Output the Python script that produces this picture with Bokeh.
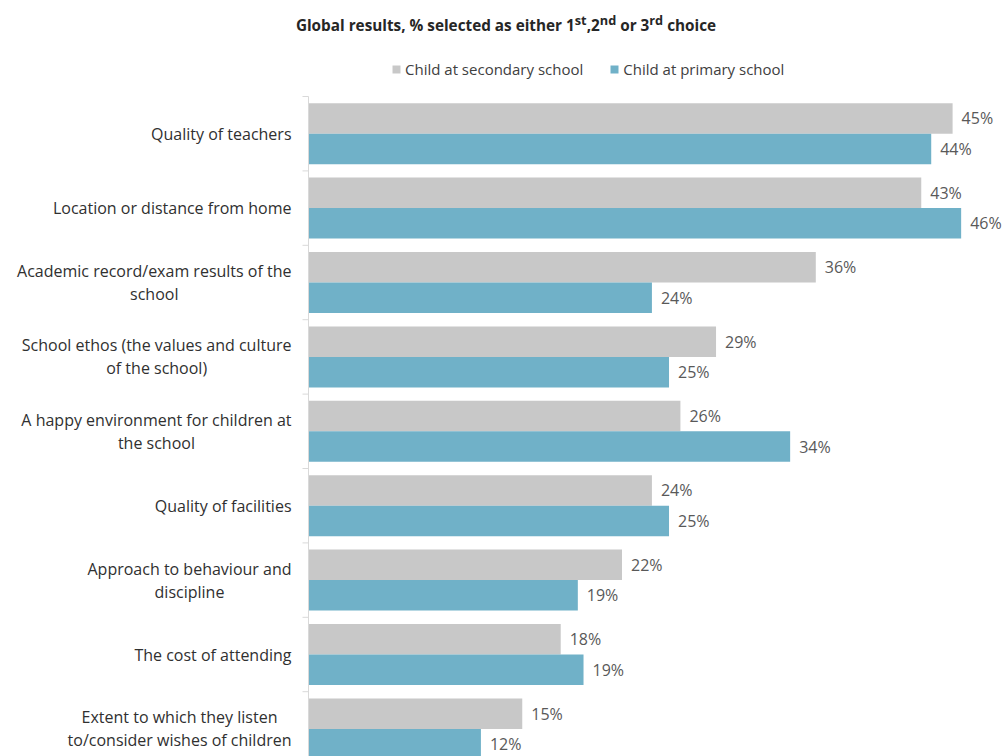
from bokeh.plotting import figure
from bokeh.models import Range1d, Legend, LegendItem, ColumnDataSource, Div, Label
from bokeh.layouts import column
from bokeh.embed import file_html
from bokeh.resources import INLINE
from bokeh.core.properties import value

categories = [
    "Quality of teachers",
    "Location or distance from home",
    "Academic record/exam results of the\nschool",
    "School ethos (the values and culture\nof the school)",
    "A happy environment for children at\nthe school",
    "Quality of facilities",
    "Approach to behaviour and\ndiscipline",
    "The cost of attending",
    "Extent to which they listen\nto/consider wishes of children",
]
secondary = [45.2, 43.0, 35.6, 28.6, 26.1, 24.1, 22.0, 17.7, 15.0]
primary = [43.7, 45.8, 24.1, 25.3, 33.8, 25.3, 18.9, 19.3, 12.1]
series_names = ["Child at secondary school", "Child at primary school"]
title_html = "Global results, % selected as either 1<sup>st</sup>,2<sup>nd</sup> or 3<sup>rd</sup> choice"

GRAY = "#c8c8c8"
BLUE = "#70b1c8"
AXIS = "#d9d9d9"
FONT = "Open Sans"

n = len(categories)
idx = list(range(n))
off = 0.205
bar_h = 0.41
src_s = ColumnDataSource(dict(y=[i - off for i in idx], v=secondary,
                              lab=[f"{round(v)}%" for v in secondary]))
src_p = ColumnDataSource(dict(y=[i + off for i in idx], v=primary,
                              lab=[f"{round(v)}%" for v in primary]))

# layout constants (page pixels)
W, H = 1004, 756
DIV_H = 44
FIG_H = H - DIV_H
band_px = 74.4
px_per_unit = 14.25
axis_top = 96      # page y of the first category boundary
axis_x = 308       # page x of the value axis (0 %)

y_top = -0.5 - (axis_top - DIV_H) / band_px
y_bottom = -0.5 + (H - axis_top) / band_px

p = figure(width=W, height=FIG_H, output_backend="svg", toolbar_location=None,
           x_range=Range1d(-axis_x / px_per_unit, (W - axis_x) / px_per_unit),
           y_range=Range1d(y_bottom, y_top),
           min_border=0, x_axis_location=None, y_axis_location=None)
p.outline_line_color = None
p.xgrid.visible = False
p.ygrid.visible = False

r_s = p.hbar(y="y", right="v", left=0, height=bar_h, source=src_s,
             fill_color=GRAY, line_color=None)
r_p = p.hbar(y="y", right="v", left=0, height=bar_h, source=src_p,
             fill_color=BLUE, line_color=None)

for src in (src_s, src_p):
    p.text(x="v", y="y", text="lab", source=src, x_offset=9,
           text_baseline="middle", text_align="left",
           text_font=value(FONT), text_font_size="16px", text_color="#595959")

# category axis line and boundary ticks
bounds = [i - 0.5 for i in range(n + 1)]
p.segment(x0=[0], y0=[bounds[0]], x1=[0], y1=[bounds[-1]], line_color=AXIS, line_width=1)
tick_len = 6 / px_per_unit
p.segment(x0=[0] * len(bounds), y0=bounds, x1=[-tick_len] * len(bounds), y1=bounds,
          line_color=AXIS, line_width=1)

for i, c in zip(idx, categories):
    p.add_layout(Label(x=0, y=i, text=c, x_offset=-17, anchor="center_right",
                       text_align="center", text_baseline="middle",
                       text_font=FONT, text_font_size="16px",
                       text_color="#303030", text_line_height=1.04))

legend = Legend(items=[LegendItem(label=series_names[0], renderers=[r_s]),
                       LegendItem(label=series_names[1], renderers=[r_p])],
                orientation="horizontal", location=(391, H - 79),
                padding=0, margin=0, spacing=26, label_standoff=4,
                glyph_width=10, glyph_height=10, label_height=18,
                border_line_color=None, background_fill_alpha=0,
                label_text_font=FONT, label_text_font_size="15px",
                label_text_color="#404040")
p.add_layout(legend, "center")

title = Div(text=title_html, width=W, height=DIV_H, margin=0,
            styles={"text-align": "center", "font-family": FONT,
                    "font-weight": "bold", "font-size": "15.3px",
                    "color": "#262626", "padding-top": "11px",
                    "padding-left": "8px", "box-sizing": "border-box"})

layout = column(title, p, spacing=0)
open("out.html", "w").write(file_html(layout, INLINE))
